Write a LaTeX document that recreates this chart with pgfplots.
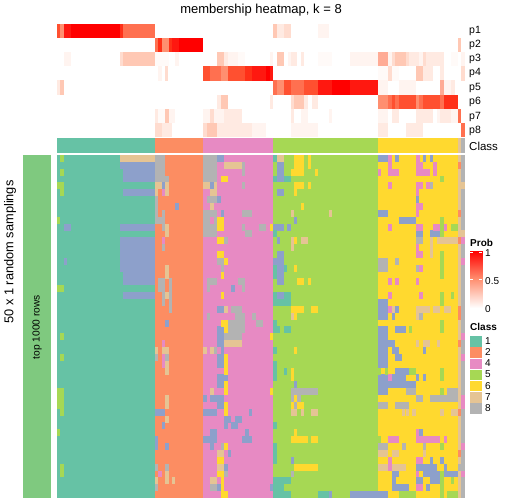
\documentclass[border=0pt]{standalone}
\usepackage{fontspec}
\setmainfont{Liberation Sans}
\usepackage{pgfplots}
\pgfplotsset{compat=1.18}
\definecolor{c1}{HTML}{66C2A5}\definecolor{c2}{HTML}{FC8D62}\definecolor{c3}{HTML}{8DA0CB}\definecolor{c4}{HTML}{E78AC3}
\definecolor{c5}{HTML}{A6D854}\definecolor{c6}{HTML}{FFD92F}\definecolor{c7}{HTML}{E5C494}\definecolor{c8}{HTML}{B3B3B3}
\definecolor{acc}{HTML}{7FC97F}
\definecolor{LA}{HTML}{FF0000}\definecolor{LB}{HTML}{FF1810}\definecolor{LC}{HTML}{FF3018}\definecolor{LD}{HTML}{FF5030}
\definecolor{LE}{HTML}{FF7050}\definecolor{LF}{HTML}{FF8F70}\definecolor{LG}{HTML}{FFAB95}\definecolor{LH}{HTML}{FFC8B4}
\definecolor{LI}{HTML}{FFDCCF}\definecolor{LJ}{HTML}{FFEAE2}\definecolor{LK}{HTML}{FFF4F0}\definecolor{LL}{HTML}{FFFAF8}
\pgfplotsset{
 run/.style 2 args={no marks,draw=none,forget plot,error bars/.cd,x dir=plus,x explicit,error mark=none,error bar style={draw=#1,line width=#2,solid}},
 table/tb/.style={row sep=crcr,x index=0,y index=1,x error index=2},
 base/.style={hide axis,scale only axis,anchor=south west,clip=false,y dir=reverse},
}
\begin{document}
\begin{tikzpicture}[x=1bp,y=1bp]
\path[use as bounding box] (0,0) rectangle (504,504);
% ---------- top probability rows
\begin{axis}[base,at={(57bp,367bp)},width=408bp,height=113bp,xmin=57,xmax=465,ymin=-0.5,ymax=7.5]
\addplot[run={LL}{14.2bp}] table[tb] {155 2 14\\238 2 7\\318 2 11\\329 2 3\\451 2 7\\378 3 10\\392 3 7\\158 6 7\\};
\addplot[run={LK}{14.2bp}] table[tb] {318 0 11\\64 2 7\\228 2 10\\175 2 4\\288 2 3\\350 2 28\\461 2 4\\419 2 4\\388 2 4\\270 2 3\\158 3 4\\399 4 17\\444 4 7\\378 4 10\\169 6 6\\203 6 7\\214 6 10\\301 6 7\\329 6 3\\378 6 10\\437 6 3\\451 6 7\\291 7 27\\252 7 14\\};
\addplot[run={LJ}{14.2bp}] table[tb] {277 0 7\\409 2 10\\426 2 18\\224 2 4\\291 2 6\\301 2 3\\423 3 10\\440 3 4\\57 4 3\\451 4 4\\217 5 4\\270 5 3\\304 5 4\\312 5 6\\155 6 3\\224 6 18\\392 6 7\\416 6 7\\423 6 10\\291 6 3\\440 6 4\\444 6 7\\162 7 3\\165 7 7\\217 7 14\\231 7 14\\245 7 7\\378 7 10\\406 7 10\\416 7 7\\};
\addplot[run={LI}{14.2bp}] table[tb] {284 0 7\\120 2 3\\392 2 3\\406 2 3\\423 2 3\\165 3 3\\388 3 4\\461 3 4\\291 5 3\\210 6 4\\155 7 7\\203 7 4\\};
\addplot[run={LH}{14.2bp}] table[tb] {273 0 4\\458 1 3\\123 2 32\\217 2 7\\277 2 7\\395 2 11\\416 3 7\\60 4 4\\221 5 7\\294 5 10\\165 6 4\\207 7 10\\};
\addplot[run={LG}{14.2bp}] table[tb] {378 2 10\\440 4 4\\};
\addplot[run={LF}{14.2bp}] table[tb] {60 0 4\\162 1 7\\221 3 7\\277 4 7\\378 5 10\\416 5 3\\};
\addplot[run={LE}{14.2bp}] table[tb] {123 0 32\\155 1 3\\210 3 11\\273 4 4\\291 4 6\\297 4 7\\388 5 4\\395 5 4\\419 5 4\\440 5 4\\458 6 3\\461 7 4\\};
\addplot[run={LD}{14.2bp}] table[tb] {57 0 3\\203 3 7\\228 3 17\\284 4 7\\304 4 14\\392 5 3\\399 5 17\\423 5 17\\};
\addplot[run={LC}{14.2bp}] table[tb] {120 0 3\\158 1 4\\169 1 3\\245 3 7\\444 5 14\\};
\addplot[run={LB}{14.2bp}] table[tb] {64 0 7\\172 1 7\\252 3 14\\270 3 3\\318 4 14\\350 4 28\\};
\addplot[run={LA}{14.2bp}] table[tb] {71 0 49\\179 1 24\\266 3 4\\332 4 18\\};
\end{axis}
% ---------- class bar
\begin{axis}[base,at={(57bp,351bp)},width=408bp,height=15bp,xmin=57,xmax=465,ymin=-0.5,ymax=0.5]
\addplot[run={c1}{15bp}] table[tb] {57 0 98\\};
\addplot[run={c2}{15bp}] table[tb] {155 0 48\\};
\addplot[run={c4}{15bp}] table[tb] {203 0 70\\};
\addplot[run={c5}{15bp}] table[tb] {273 0 105\\};
\addplot[run={c6}{15bp}] table[tb] {378 0 80\\};
\addplot[run={c7}{15bp}] table[tb] {458 0 3.4\\};
\addplot[run={c8}{15bp}] table[tb] {461.4 0 3.6\\};
\end{axis}
% ---------- main matrix
\begin{axis}[base,at={(57bp,6bp)},width=408bp,height=343bp,xmin=57,xmax=465,ymin=-0.5,ymax=49.5]
\addplot[run={acc}{343bp}] table[tb] {23 24.5 28\\};
\addplot[run={c1}{343bp}] table[tb] {57 24.5 98\\};
\addplot[run={c2}{343bp}] table[tb] {155 24.5 48\\};
\addplot[run={c4}{343bp}] table[tb] {203 24.5 70\\};
\addplot[run={c5}{343bp}] table[tb] {273 24.5 105\\};
\addplot[run={c6}{343bp}] table[tb] {378 24.5 80\\};
\addplot[run={c7}{343bp}] table[tb] {458 24.5 3.4\\};
\addplot[run={c8}{343bp}] table[tb] {461.4 24.5 3.6\\};
% gray
\addplot[run={c8}{6.95bp}] table[tb] {155 0 10\\155 1 10\\155 2 10\\155 3 14\\155 6 3\\155 7 3\\155 8 3\\162 8 3\\155 9 10\\162 10 3\\162 13 3\\158 18 7\\169 18 3\\158 19 7\\169 19 3\\162 20 3\\169 20 3\\162 21 3\\169 21 3\\169 22 3\\155 29 3\\165 29 4\\155 45 3\\165 45 4\\155 48 3\\
203 0 14\\203 1 14\\203 2 14\\203 3 14\\242 1 3\\242 2 3\\242 4 3\\207 6 10\\203 8 14\\242 8 10\\203 9 7\\214 9 3\\203 10 14\\242 10 3\\259 10 7\\203 11 14\\245 11 7\\224 12 4\\217 15 7\\221 16 3\\207 18 10\\238 18 7\\207 19 3\\242 19 3\\231 22 11\\207 23 3\\235 23 10\\252 23 4\\228 24 17\\256 24 7\\228 25 17\\224 26 18\\214 28 3\\221 42 3\\224 46 4\\210 48 7\\
378 15 10\\395 15 4\\378 16 10\\416 16 3\\416 12 7\\430 4 3\\419 23 4\\406 34 10\\447 34 11\\416 35 7\\430 35 28\\378 36 10\\395 36 14\\378 42 10\\402 42 4\\423 42 3\\458 45 7\\
291 34 27\\291 35 3\\297 35 4\\294 36 3\\291 46 3\\};
% blue
\addplot[run={c3}{6.95bp}] table[tb] {120 1 35\\123.3 2 31.7\\123.3 3 31.7\\123.3 5 31.7\\64 10 7\\120 10 35\\120 12 35\\120 13 35\\120 14 35\\120 15 35\\120 16 35\\64 15 3.4\\123.3 17 31.7\\123.3 18 31.7\\123.3 20 31.7\\
162 4 3\\175 7 4\\165 24 4\\155 37 10\\162 39 3\\155 41 3\\155 42 3\\165 42 4\\
217 0 7\\210 4 4\\217 6 4\\221 8 3\\231 19 4\\217 22 7\\217 25 7\\217 26 7\\217 27 7\\221 28 3\\217 29 7\\217 30 7\\217 32 11\\217 33 7\\203 35 4\\210 35 14\\217 36 7\\203 37 14\\249 37 3\\224 38 7\\235 38 7\\224 39 4\\231 39 7\\210 40 7\\245 40 4\\203 41 14\\242 41 10\\210 42 4\\228 43 3\\224 45 4\\217 48 4\\270 48 3\\
277 1 7\\277 2 7\\277 3 7\\277 5 7\\294 9 3\\273 10 11\\287 10 4\\277 12 3\\277 14 7\\273 15 11\\277 16 7\\277 17 7\\277 18 7\\277 20 7\\294 33 3\\291 44 3\\329 49 3\\350 49 28\\
378 0 10\\395 0 4\\423 0 3\\430 0 3\\416 6 3\\378 8 10\\399 9 17\\416 11 7\\430 11 10\\378 21 10\\378 22 10\\378 23 10\\392 23 3\\395 22 4\\378 25 10\\395 25 11\\378 26 10\\378 27 17\\378 28 10\\392 28 7\\423 28 3\\378 29 10\\395 29 7\\378 30 10\\395 31 14\\378 32 10\\392 32 14\\416 32 3\\423 32 3\\378 33 38\\378 34 10\\419 40 4\\430 44 3\\440 44 4\\416 45 21\\444 45 3\\392 46 7\\423 46 17\\444 46 14\\392 47 4\\416 47 7\\430 47 10\\392 48 4\\395 48 14\\426 48 4\\378 49 10\\};
% pink
\addplot[run={c4}{6.95bp}] table[tb] {162 5 3\\162 12 3\\162 27 3\\162 29 3\\162 30 3\\158 46 4\\
388 0 4\\416 0 4\\388 1 4\\416 1 7\\433 1 4\\378 2 3\\388 2 11\\416 2 14\\433 2 4\\388 4 4\\416 4 7\\426 4 4\\416 5 3\\416 7 7\\416 8 3\\388 10 4\\416 10 7\\433 10 7\\444 10 3\\416 13 3\\416 14 7\\419 16 4\\388 18 4\\395 18 4\\416 18 3\\388 20 4\\419 20 4\\388 22 4\\388 32 4\\416 40 3\\388 41 11\\416 41 24\\444 41 3\\388 44 4\\416 44 7\\388 45 4\\416 46 3\\416 48 7\\
461 12 4\\461 15 4\\461 26 4\\461 29 4\\461 35 4\\461 36 4\\461 42 4\\461 46 4\\};
% tan
\addplot[run={c7}{6.95bp}] table[tb] {120 0 35\\155 4 7\\165 4 4\\155 5 3\\165 5 4\\165 10 4\\165 11 4\\165 16 4\\165 17 4\\165 20 4\\155 28 3\\162 28 7\\165 30 4\\165 31 4\\165 35 4\\165 36 4\\165 38 4\\165 46 4\\155 47 3\\165 47 4\\172 47 3\\
224 1 18\\203 4 7\\214 4 3\\210 5 7\\210 7 4\\224 22 4\\224 27 18\\203 28 4\\210 28 4\\210 34 4\\217 43 7\\217 45 7\\210 47 7\\
277 0 7\\291 8 3\\329 8 3\\291 12 3\\301 12 7\\291 13 3\\291 23 3\\291 37 6\\301 37 3\\311 37 7\\
392 22 3\\416 22 14\\433 22 7\\444 22 7\\416 23 3\\416 27 3\\423 27 7\\437 27 3\\430 12 3\\437 12 21\\430 13 3\\430 14 3\\402 37 3\\406 37 3\\412 37 4\\440 37 4\\451 37 7\\378 43 10\\392 43 7\\423 43 3\\378 45 10\\392 45 14\\458 4 7\\458 11 7\\};
% yellow
\addplot[run={c6}{6.95bp}] table[tb] {221 3 7\\217 9 7\\217 10 7\\270 10 3\\217 12 7\\217 14 7\\224 15 4\\221 17 3\\221 20 3\\221 24 7\\224 25 4\\270 26 3\\224 29 4\\224 30 4\\224 31 4\\224 33 4\\224 34 4\\270 34 3\\224 36 4\\224 37 4\\224 42 4\\217 44 7\\217 46 7\\221 47 3\\221 48 3\\221 49 7\\
294 0 10\\308 0 3\\294 1 10\\308 1 3\\291 2 13\\315 2 3\\294 4 10\\308 4 3\\294 5 3\\301 7 3\\294 12 3\\294 16 3\\297 18 7\\308 18 3\\291 22 13\\311 22 7\\294 23 3\\294 28 3\\291 31 3\\291 32 3\\294 35 3\\291 36 3\\297 36 7\\294 40 3\\291 41 17\\311 41 7\\294 45 24\\};
% green
\addplot[run={c5}{6.95bp}] table[tb] {60 0 4\\60 2 4\\57 4 7\\60 5 4\\57 9 3\\57 19 7\\60 26 4\\60 29 4\\57 34 7\\57 35 7\\57 36 7\\60 37 4\\57 40 3\\60 45 4\\60 46 4\\
440 3 4\\440 9 4\\440 10 4\\451 10 7\\440 11 4\\440 14 4\\440 15 4\\440 16 4\\440 17 4\\440 20 4\\451 20 3\\440 21 4\\409 25 3\\440 24 4\\440 25 4\\378 31 3\\385 31 3\\409 31 7\\440 31 4\\440 32 4\\440 34 4\\440 42 4\\378 41 3\\440 46 4\\440 47 4\\451 47 3\\440 48 4\\399 49 17\\440 49 4\\447 49 11\\};
% teal
\addplot[run={c1}{6.95bp}] table[tb] {273 0 4\\273 3 4\\284 3 7\\273 11 4\\273 16 4\\284 16 3\\273 17 4\\273 20 4\\284 20 7\\273 21 18\\273 24 4\\273 25 7\\284 25 7\\273 28 4\\273 30 4\\273 31 4\\284 31 3\\273 32 4\\273 39 4\\273 42 4\\273 43 4\\273 44 4\\273 47 18\\273 48 11\\273 49 18\\318 49 11\\};
% orange
\addplot[run={c2}{6.95bp}] table[tb] {458 1 3.4\\458 8 3.4\\458 12 3.4\\458 22 3.4\\458 23 3.4\\458 27 3.4\\458 37 3.4\\458 43 3.4\\};
\end{axis}
% ---------- Prob legend
\begin{axis}[base,y dir=normal,at={(470bp,196bp)},width=12bp,height=57bp,xmin=0,xmax=12,ymin=0,ymax=1,
  colormap={pr}{color(0)=(white) color(0.5)=(LF) color(1)=(LA)},point meta min=0,point meta max=1]
\addplot[surf,shader=interp,mesh/cols=2,point meta=explicit,forget plot] table[x=x,y=y,meta=m] {
x y m
0 0 0
12 0 0
0 0.5 0.5
12 0.5 0.5
0 1 1
12 1 1
};
\addplot[run={white}{0.7bp}] table[tb] {0 0.97 3\\9 0.97 3\\0 0.5 3\\9 0.5 3\\};
\end{axis}
% ---------- Class legend
\begin{axis}[base,at={(470bp,90bp)},width=11.5bp,height=78bp,xmin=0,xmax=11.5,ymin=-0.5,ymax=6.5]
\addplot[run={c1}{10.6bp}] table[tb] {0 0 11.5\\};
\addplot[run={c2}{10.6bp}] table[tb] {0 1 11.5\\};
\addplot[run={c4}{10.6bp}] table[tb] {0 2 11.5\\};
\addplot[run={c5}{10.6bp}] table[tb] {0 3 11.5\\};
\addplot[run={c6}{10.6bp}] table[tb] {0 4 11.5\\};
\addplot[run={c7}{10.6bp}] table[tb] {0 5 11.5\\};
\addplot[run={c8}{10.6bp}] table[tb] {0 6 11.5\\};
\end{axis}
% ---------- text
\node[anchor=center,font=\fontsize{13bp}{15bp}\selectfont] at (261,493.5) {membership heatmap, k = 8};
\foreach \t/\y in {p1/473,p2/459,p3/445,p4/431,p5/416.5,p6/402.5,p7/387.5,p8/373}
  \node[anchor=west,inner sep=0,font=\fontsize{10.5bp}{12bp}\selectfont] at (469,\y) {\t};
\node[anchor=west,inner sep=0,font=\fontsize{11.5bp}{12bp}\selectfont] at (469,358) {Class};
\node[rotate=90,font=\fontsize{12.8bp}{16bp}\selectfont] at (10,252) {50 x 1 random samplings};
\node[rotate=90,font=\fontsize{10.2bp}{11bp}\selectfont] at (37,177) {top 1000 rows};
\node[anchor=west,inner sep=0,font=\bfseries\fontsize{10bp}{12bp}\selectfont] at (470,261) {Prob};
\foreach \t/\y in {1/251,0.5/222.5,0/195}
  \node[anchor=west,inner sep=0,font=\fontsize{10bp}{12bp}\selectfont] at (485,\y) {\t};
\node[anchor=west,inner sep=0,font=\bfseries\fontsize{10bp}{12bp}\selectfont] at (470,177) {Class};
\foreach \t/\y in {1/162.5,2/151.5,4/140.5,5/129.5,6/118,7/107,8/96}
  \node[anchor=west,inner sep=0,font=\fontsize{10bp}{12bp}\selectfont] at (485,\y) {\t};
\end{tikzpicture}
\end{document}
